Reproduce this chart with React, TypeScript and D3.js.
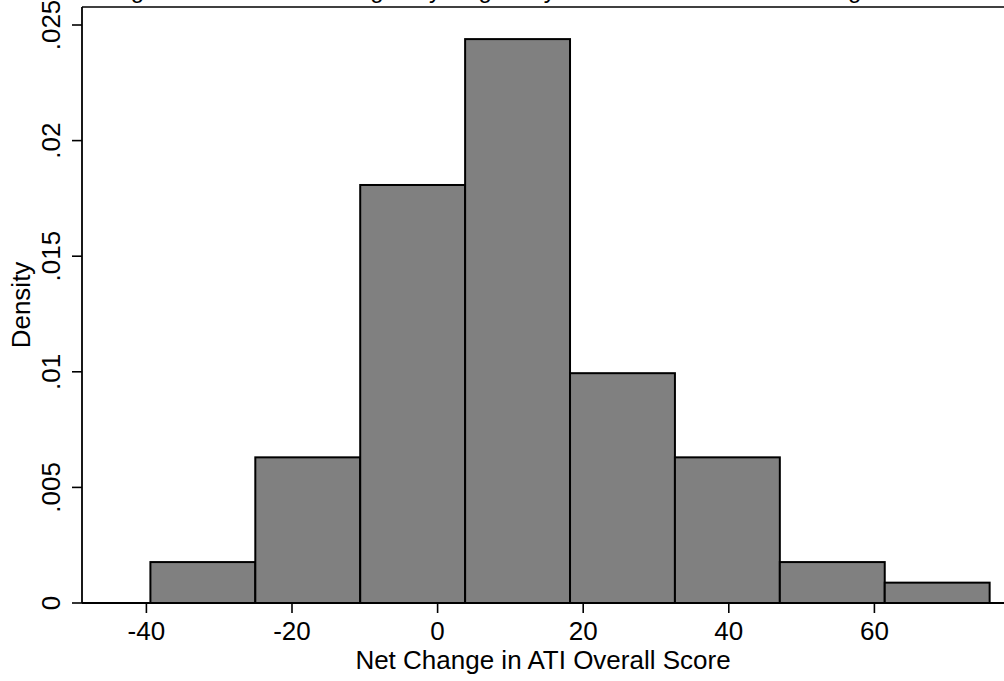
import React from "react";
import * as d3 from "d3";

const binEdges = [-39.45, -25.04, -10.63, 3.78, 18.19, 32.6, 47.01, 61.42, 75.83];
const densities = [0.00177, 0.0063, 0.01808, 0.02439, 0.00994, 0.0063, 0.00177, 0.00088];
const xTicks = [-40, -20, 0, 20, 40, 60];
const yTicks = [0, 0.005, 0.01, 0.015, 0.02, 0.025];
const yTickLabels = ["0", ".005", ".01", ".015", ".02", ".025"];
const titleText = "Figure 1. Total Net Changes by Region by Sector and Level of Training";
const xTitle = "Net Change in ATI Overall Score";
const yTitle = "Density";

const W = 1004;
const H = 681;
const FONT = "'Liberation Sans', Arial, Helvetica, sans-serif";

export default function App() {
  const x = d3.scaleLinear().domain([-40, 60]).range([146.4, 874.4]);
  const y = d3.scaleLinear().domain([0, 0.025]).range([603, 25]);
  const left = 82;
  const top = 7;
  const bottom = 603;
  const right = 1010;

  const bars = densities.map((d, i) => ({ x0: binEdges[i], x1: binEdges[i + 1], d }));

  return (
    <svg
      width={W}
      height={H}
      style={{ position: "absolute", left: 0, top: 0, background: "#fff" }}
      fontFamily={FONT}
    >
      <rect x={0} y={0} width={W} height={H} fill="#fff" />
      <text x={486} y={-2} fontSize={24} textAnchor="middle" fill="#000">
        {titleText}
      </text>
      {bars.map((b, i) => (
        <rect
          key={i}
          x={x(b.x0)}
          y={y(b.d)}
          width={x(b.x1) - x(b.x0)}
          height={y(0) - y(b.d)}
          fill="#808080"
          stroke="#000"
          strokeWidth={2}
        />
      ))}
      {/* frame */}
      <line x1={left} x2={right} y1={top} y2={top} stroke="#000" strokeWidth={1.6} />
      <line x1={left} x2={left} y1={top} y2={bottom} stroke="#000" strokeWidth={1.8} />
      <line x1={left} x2={right} y1={bottom} y2={bottom} stroke="#000" strokeWidth={1.8} />
      {/* y ticks */}
      {yTicks.map((t, i) => (
        <g key={"y" + i}>
          <line x1={left - 10} x2={left} y1={y(t)} y2={y(t)} stroke="#000" strokeWidth={1.6} />
          <text
            transform={`translate(60,${y(t)}) rotate(-90)`}
            textAnchor="middle"
            fontSize={26}
            fill="#000"
          >
            {yTickLabels[i]}
          </text>
        </g>
      ))}
      {/* x ticks */}
      {xTicks.map((t, i) => (
        <g key={"x" + i}>
          <line x1={x(t)} x2={x(t)} y1={bottom} y2={bottom + 10} stroke="#000" strokeWidth={1.6} />
          <text x={x(t)} y={640} textAnchor="middle" fontSize={26} fill="#000">
            {t}
          </text>
        </g>
      ))}
      <text x={543} y={669} textAnchor="middle" fontSize={26} fill="#000">
        {xTitle}
      </text>
      <text transform={`translate(30,${(top + bottom) / 2}) rotate(-90)`} textAnchor="middle" fontSize={26} fill="#000">
        {yTitle}
      </text>
    </svg>
  );
}
